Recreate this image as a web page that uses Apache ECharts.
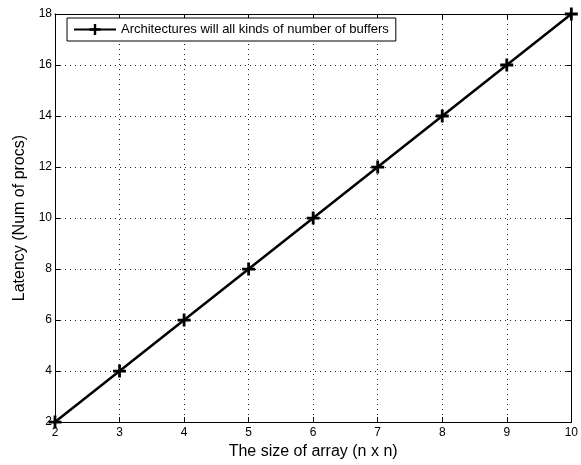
<!DOCTYPE html>
<html>
<head>
<meta charset="utf-8">
<script src="https://cdn.jsdelivr.net/npm/echarts@6/dist/echarts.min.js"></script>
<style>html,body{margin:0;padding:0;background:#fff;}#c{width:581px;height:465px;}</style>
</head>
<body>
<div id="c"></div>
<script>
var xValues = [2, 3, 4, 5, 6, 7, 8, 9, 10];
var latency = [2, 4, 6, 8, 10, 12, 14, 16, 18];
var seriesName = 'Architectures will all kinds of number of buffers';
var xAxisName = 'The size of array (n x n)';
var yAxisName = 'Latency (Num of procs)';

var plus = 'path://M4.9,0H7.6V4.9H12.5V7.6H7.6V12.5H4.9V7.6H0V4.9H4.9Z';
var font = 'Liberation Sans';
var chart = echarts.init(document.getElementById('c'), null, {renderer: 'canvas'});
var grid = {left: 55, right: 5, top: 14, bottom: 42, containLabel: false};
var dotted = {show: true, lineStyle: {color: '#222', width: 1, type: [1, 4]}};
chart.setOption({
  animation: false,
  backgroundColor: '#fff',
  textStyle: {fontFamily: font},
  grid: grid,
  legend: {
    left: 67, top: 18,
    padding: [5, 7, 5, 6],
    itemWidth: 42, itemHeight: 14,
    borderColor: '#000', borderWidth: 1, backgroundColor: '#fff',
    textStyle: {fontFamily: font, fontSize: 13, color: '#000'},
    data: [seriesName]
  },
  xAxis: [{
    type: 'value', min: 2, max: 10, interval: 1,
    name: xAxisName, nameLocation: 'middle', nameGap: 19,
    nameTextStyle: {fontFamily: font, fontSize: 16, color: '#000'},
    axisLine: {show: true, lineStyle: {color: '#000', width: 1}},
    axisTick: {show: true, inside: true, length: 5, lineStyle: {color: '#000'}},
    axisLabel: {fontFamily: font, fontSize: 12, color: '#000', margin: 5},
    splitLine: dotted
  }, {
    type: 'value', min: 2, max: 10, interval: 1, position: 'top',
    axisLine: {show: true, lineStyle: {color: '#000', width: 1}},
    axisTick: {show: true, inside: true, length: 5, lineStyle: {color: '#000'}},
    axisLabel: {show: false}, splitLine: {show: false}
  }],
  yAxis: [{
    type: 'value', min: 2, max: 18, interval: 2,
    name: yAxisName, nameLocation: 'middle', nameGap: 25, nameRotate: 90,
    nameTextStyle: {fontFamily: font, fontSize: 16, color: '#000'},
    axisLine: {show: true, lineStyle: {color: '#000', width: 1}},
    axisTick: {show: true, inside: true, length: 5, lineStyle: {color: '#000'}},
    axisLabel: {fontFamily: font, fontSize: 12, color: '#000', margin: 3},
    splitLine: dotted
  }, {
    type: 'value', min: 2, max: 18, interval: 2, position: 'right',
    axisLine: {show: true, lineStyle: {color: '#000', width: 1}},
    axisTick: {show: true, inside: true, length: 5, lineStyle: {color: '#000'}},
    axisLabel: {show: false}, splitLine: {show: false}
  }],
  series: [{
    name: seriesName,
    type: 'line',
    data: xValues.map(function (x, i) { return [x, latency[i]]; }),
    symbol: plus, symbolSize: 13, showAllSymbol: true,
    itemStyle: {color: '#000'},
    lineStyle: {color: '#000', width: 2.5},
    clip: false
  }]
});
</script>
</body>
</html>
